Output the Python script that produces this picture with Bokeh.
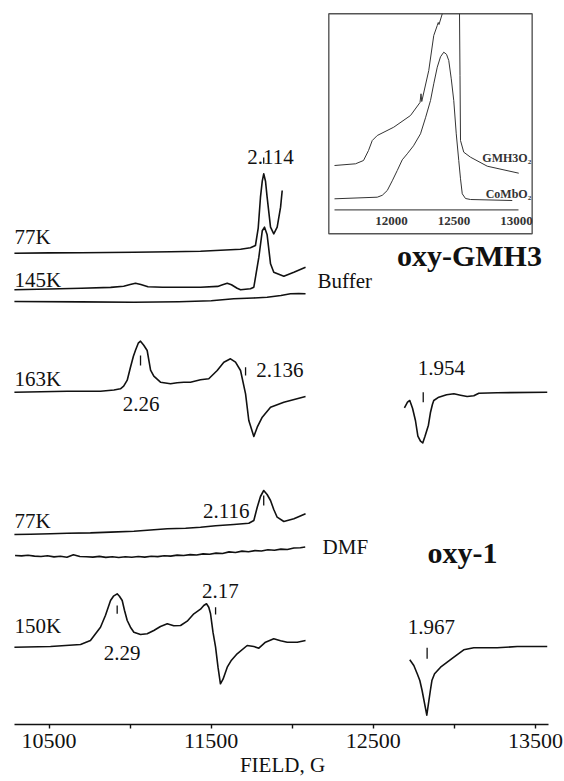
import math
from bokeh.plotting import figure
from bokeh.models import Range1d, FixedTicker
from bokeh.core.properties import value
from bokeh.embed import file_html
from bokeh.resources import INLINE

FONT = "Liberation Serif"
INK = "#111111"
GREY = "#555555"

# ------------------------------------------------------------------ data
# field axis
field_ticks = [10500, 11500, 12500, 13500]
field_minor_ticks = [11000, 12000, 13000]

# oxy-GMH3, 77K
gmh3_77k_field = [10286, 10500, 10700, 11023, 11250, 11434, 11681, 11742, 11773, 11790, 11804, 11815,
                  11824, 11835, 11845, 11866, 11886, 11907, 11928, 11938]
gmh3_77k_signal = [0, 0.3, 0.5, 1.0, 1.4, 2.0, 4.0, 5.4, 7.7, 25, 56, 72,
                   79.4, 72, 56, 26, 19.4, 26, 46, 62.7]

# oxy-GMH3, 145K
gmh3_145k_field = [10286, 10500, 10700, 10880, 10960, 11000, 11033, 11066, 11110, 11200, 11434, 11540,
                   11570, 11599, 11625, 11660, 11681, 11742, 11763, 11794, 11815, 11829, 11845, 11866,
                   11886, 11948, 12010, 12082]
gmh3_145k_signal = [0, 0.8, 1.5, 2.4, 3.5, 5.2, 6.6, 5.2, 3.0, 2.6, 2.6, 3.4,
                    5.0, 6.6, 5.0, 1.5, 0, 1.0, 2.6, 32.6, 59, 62.6, 55, 26,
                    17.6, 13.6, 17.6, 22.6]

# buffer blank
buffer_field = [10286, 10700, 11023, 11300, 11500, 11639, 11760, 11845, 11930, 11989, 12040, 12082]
buffer_signal = [0, -0.4, -0.7, -0.3, 0.7, 2.7, 3.5, 4.3, 6.0, 7.7, 7.9, 7.7]

# oxy-GMH3, 163K (low-field part)
gmh3_163k_field = [10286, 10450, 10612, 10817, 10900, 10940, 10960, 10982, 11002, 11020, 11033, 11050,
                   11064, 11084, 11105, 11126, 11146, 11187, 11249, 11290, 11331, 11372, 11434, 11485,
                   11537, 11578, 11619, 11650, 11681, 11712, 11732, 11763, 11784, 11815, 11866, 11948,
                   12082]
gmh3_163k_signal = [0, 0.5, 1.0, 1.0, 2.2, 3.4, 6.0, 12, 25, 36, 42, 49,
                    51, 47, 41.7, 22, 16, 10, 8.4, 9.5, 10, 10, 12.4, 13.4,
                    21.7, 30, 33.4, 30, 21.7, -1.6, -28.3, -44.3, -35, -25, -15, -10,
                    -4.3]

# oxy-GMH3, 163K (high-field part, g = 1.954)
gmh3_163k_hi_field = [12692, 12711, 12725, 12742, 12760, 12775, 12791, 12805, 12819, 12840, 12853, 12865,
                      12873, 12904, 12952, 12997, 13038, 13079, 13120, 13151, 13264, 13573]
gmh3_163k_hi_signal = [-15.6, -10, -8.3, -16, -28.3, -44, -49, -50.7, -44, -33, -20, -12,
                       -8.3, -5.0, -2.5, -1.6, -3.0, -4.3, -3.6, -1.0, -0.6, 0]

# oxy-1, 77K
oxy1_77k_field = [10286, 10385, 10509, 10612, 10755, 10879, 11023, 11126, 11229, 11342, 11434, 11527,
                  11639, 11732, 11763, 11784, 11804, 11824, 11845, 11866, 11886, 11907, 11948, 12010,
                  12082]
oxy1_77k_signal = [0, 0.2, 0.8, 1.3, 1.6, 2.4, 3.3, 4.5, 5.7, 6.2, 7.3, 8.8,
                   10, 11.3, 14, 27.3, 38, 44, 40, 34, 25, 17.3, 13, 15.7,
                   20.7]

# DMF blank (noisy)
dmf_field = [10290, 10330, 10370, 10410, 10450, 10490, 10530, 10570, 10610, 10650, 10690, 10730,
             10770, 10810, 10850, 10890, 10930, 10970, 11010, 11050, 11090, 11130, 11170, 11210,
             11250, 11290, 11330, 11370, 11410, 11450, 11490, 11530, 11570, 11610, 11650, 11690,
             11730, 11770, 11810, 11850, 11890, 11930, 11970, 12010, 12050, 12080]
dmf_signal = [0.0, -0.4, 0.3, -0.6, -1.0, -0.3, -1.4, -0.8, -1.8, 0.8, -1.0, -1.2,
              -1.6, -0.9, -1.9, -1.2, -2.0, -1.3, -1.8, -1.0, -1.6, -0.7, -1.1, -0.2,
              -0.6, 0.4, 0.0, 0.9, 0.5, 1.6, 1.2, 2.4, 2.0, 3.6, 3.0, 4.4,
              3.8, 4.9, 4.5, 5.8, 5.3, 6.4, 6.0, 7.5, 7.8, 8.5]

# oxy-1, 150K (low-field part)
oxy1_150k_field = [10286, 10509, 10694, 10755, 10817, 10848, 10879, 10897, 10920, 10934, 10951, 10965,
                   10982, 11002, 11023, 11064, 11105, 11146, 11187, 11229, 11269, 11311, 11352, 11393,
                   11434, 11454, 11471, 11485, 11496, 11511, 11527, 11542, 11557, 11573, 11599, 11625,
                   11660, 11722, 11763, 11794, 11835, 11886, 11928, 11969, 12031, 12082]
oxy1_150k_signal = [0, 0.7, 2.7, 6.7, 20, 32, 46.7, 51, 53.4, 51, 46.7, 37,
                    26.7, 20, 15, 12.7, 13.5, 16.7, 20.7, 23.4, 21.4, 21.7, 26, 33.4,
                    38, 41.7, 43.4, 40, 33.4, 15, 0, -20, -36.6, -32, -20, -13,
                    -6.6, 1.7, 0.7, -1.0, 5.0, 8.4, 6.5, 5.0, 5.0, 6.7]

# oxy-1, 150K (high-field part, g = 1.967)
oxy1_150k_hi_field = [12725, 12750, 12771, 12787, 12801, 12830, 12852, 12862, 12878, 12915, 12956, 12997,
                      13058, 13120, 13264, 13388, 13573]
oxy1_150k_hi_signal = [-12.6, -18.3, -26.6, -33.3, -43.3, -68, -43.3, -33, -26.6, -20, -15, -10,
                       -2.6, -0.6, -0.6, 0.7, 0.7]

# inset: GMH3O2 and CoMbO2
inset_ticks = [12000, 12500, 13000]
gmh3o2_field = [11544, 11712, 11776, 11816, 11846, 11886, 12018, 12152, 12228, 12236, 12242, 12298,
                12338, 12366, 12374, 12380, 12406, float("nan"), 12544, 12548, 12552, 12578, 12632,
                12766, 13018]
gmh3o2_signal = [0, 1.7, 5, 15, 25, 30, 38.3, 50, 63, 71.7, 64, 95,
                 130, 140, 143, 141, 151.7, float("nan"), 151.7, 90, 25, 13.3, 8.3,
                 -0.7, -7.7]
combo2_field = [11544, 11886, 11926, 11966, 12006, 12046, 12086, 12126, 12176, 12232, 12272, 12312,
                12338, 12366, 12392, 12418, 12440, 12458, 12478, 12498, 12518, 12538, 12552, 12566,
                12592, 12632, 12966]
combo2_signal = [0, 1.6, 3.5, 8.3, 18, 28.3, 39, 45, 53, 65, 81, 98.3,
                 115, 131.6, 142, 146.6, 144.5, 138.3, 120, 98.3, 65, 38.3, 20, 5,
                 0.3, -0.7, -1.7]

# g-value markers
g_labels = ["2.114", "2.26", "2.136", "1.954", "2.116", "2.29", "2.17", "1.967"]
g_marker_field = [11824, 11064, 11712, 12808, 11824, 10920, 11527, 12832]

# ------------------------------------------------------------------ layout
p = figure(width=564, height=781,
           x_range=Range1d(10200.2, 13679.5), y_range=Range1d(1, 725),
           output_backend="svg", toolbar_location=None, y_axis_type=None,
           min_border_left=0, min_border_right=0, min_border_top=0, min_border_bottom=57,
           outline_line_color=None, background_fill_color="white", border_fill_color="white")
p.extra_x_ranges = {"inset": Range1d(8872, 13384)}
p.xgrid.visible = False

ax = p.xaxis[0]
ax.ticker = FixedTicker(ticks=field_ticks, minor_ticks=field_minor_ticks)
ax.bounds = (10286.6, 13577.8)
ax.axis_line_width = 1.6
ax.axis_line_color = INK
ax.major_tick_line_color = INK
ax.minor_tick_line_color = INK
ax.major_tick_line_width = 1.4
ax.minor_tick_line_width = 1.4
ax.major_tick_in = 0
ax.major_tick_out = 4
ax.minor_tick_in = 0
ax.minor_tick_out = 4
ax.major_label_text_font = FONT
ax.major_label_text_font_size = "22px"
ax.major_label_text_color = INK
ax.major_label_standoff = 5
ax.axis_label = "FIELD, G"
ax.axis_label_text_font = FONT
ax.axis_label_text_font_size = "21px"
ax.axis_label_text_font_style = "normal"
ax.axis_label_text_color = INK
ax.axis_label_standoff = 2

# baselines of the stacked spectra (height above the field axis)
traces = [
    (gmh3_77k_field, gmh3_77k_signal, 472.3),
    (gmh3_145k_field, gmh3_145k_signal, 435.7),
    (buffer_field, buffer_signal, 424.0),
    (gmh3_163k_field, gmh3_163k_signal, 333.3),
    (gmh3_163k_hi_field, gmh3_163k_hi_signal, 333.3),
    (oxy1_77k_field, oxy1_77k_signal, 191.0),
    (dmf_field, dmf_signal, 170.0),
    (oxy1_150k_field, oxy1_150k_signal, 78.3),
    (oxy1_150k_hi_field, oxy1_150k_hi_signal, 78.3),
]
for fx, sig, base in traces:
    p.line(fx, [base + s for s in sig], line_color=INK, line_width=1.6, line_join="round")

# g-value tick marks
marker_bottom = [561.7, 360, 350, 323.3, 220, 111.7, 111, 66.7]
marker_top = [568, 370, 358.3, 333.3, 230, 120, 118.3, 77.7]
p.segment(x0=g_marker_field, y0=marker_bottom, x1=g_marker_field, y1=marker_top,
          line_color=INK, line_width=1.3)

# g-value labels
g_label_x = [11866, 11067, 11924, 12920, 11593, 10951, 11557, 12859]
g_label_y = [569, 322, 356, 357.5, 214.3, 73, 134.7, 99]
p.text(x=g_label_x, y=g_label_y, text=g_labels, text_font=value(FONT), text_font_size="21px",
       text_align="center", text_baseline="middle", text_color=INK)

# temperature / sample labels
p.text(x=[10286, 10286, 10286, 10286, 10286, 12156, 12187],
       y=[488.5, 446, 347, 205, 100, 445, 178.3],
       text=["77K", "145K", "163K", "77K", "150K", "Buffer", "DMF"],
       text_font=value(FONT), text_font_size="21px", text_align="left",
       text_baseline="middle", text_color=INK)

p.text(x=[13093, 13051], y=[470, 173], text=["oxy-GMH3", "oxy-1"],
       text_font=value(FONT), text_font_size="30px", text_font_style="bold",
       text_align="center", text_baseline="middle", text_color=INK)

# ------------------------------------------------------------------ inset
p.quad(left=[12225.5], right=[13480], bottom=[491.7], top=[711.7],
       fill_color=None, line_color=GREY, line_width=1.4)
p.line(gmh3o2_field, [560 + s for s in gmh3o2_signal], x_range_name="inset",
       line_color="#333333", line_width=1.0)
p.line(combo2_field, [526.7 + s for s in combo2_signal], x_range_name="inset",
       line_color="#333333", line_width=1.0)
p.segment(x0=[11544], y0=[515.7], x1=[13016], y1=[515.7], x_range_name="inset",
          line_color=GREY, line_width=1.2)
p.text(x=inset_ticks, y=[505, 505, 505], text=[str(t) for t in inset_ticks],
       x_range_name="inset", text_font=value(FONT), text_font_size="13px",
       text_font_style="bold", text_align="center", text_baseline="middle", text_color="#333333")
p.text(x=[13118, 13118], y=[568, 532], text=["GMH3O₂", "CoMbO₂"], x_range_name="inset",
       text_font=value(FONT), text_font_size="12px", text_font_style="bold",
       text_align="right", text_baseline="middle", text_color="#333333")

open("out.html", "w").write(file_html(p, INLINE))
